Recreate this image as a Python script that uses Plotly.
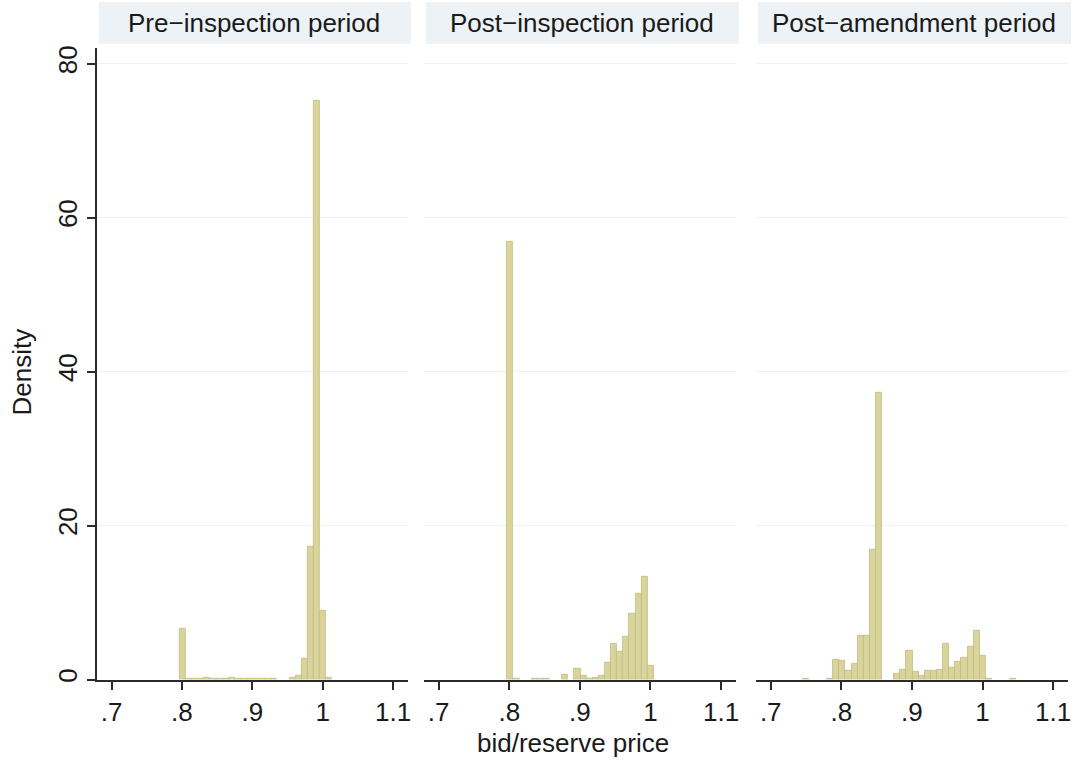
import numpy as np
import plotly.graph_objects as go

# Histogram bins shared by all three panels
BIN_START = 0.7018
BIN_WIDTH = 0.00865

panel_titles = ["Pre−inspection period", "Post−inspection period", "Post−amendment period"]
x_tick_vals = [0.7, 0.8, 0.9, 1.0, 1.1]
x_tick_text = [".7", ".8", ".9", "1", "1.1"]
y_tick_vals = [0, 20, 40, 60, 80]

# Density per bin, bin 0 starting at BIN_START
pre_inspection = [
    0, 0, 0, 0, 0, 0, 0, 0, 0, 0,
    0, 6.6, 0.15, 0.1, 0.15, 0.2, 0.15, 0.1, 0.15, 0.2,
    0.15, 0.1, 0.15, 0.1, 0.1, 0.1, 0.1, 0.0, 0.0, 0.3,
    0.5, 2.7, 17.3, 75.2, 9.0, 0.2, 0, 0, 0, 0,
]
post_inspection = [
    0, 0, 0, 0, 0, 0, 0, 0, 0, 0,
    0, 56.9, 0.15, 0, 0, 0.15, 0.15, 0.1, 0, 0,
    0.65, 0, 1.4, 0.5, 0.1, 0.2, 0.55, 2.2, 4.7, 3.6,
    5.6, 8.6, 11.2, 13.3, 1.8, 0, 0, 0, 0, 0,
]
post_amendment = [
    0, 0, 0, 0, 0, 0.1, 0, 0, 0, 0.15,
    2.6, 2.45, 1.2, 2.0, 5.7, 5.7, 16.9, 37.2, 0, 0,
    0.8, 1.3, 3.7, 1.05, 0.45, 1.1, 1.1, 1.3, 4.7, 1.5,
    2.3, 2.9, 4.3, 6.4, 3.1, 0.1, 0, 0, 0, 0.15,
]
panels = [pre_inspection, post_inspection, post_amendment]

W, H = 1080, 762
FONT = "Arial, Liberation Sans, sans-serif"
TEXT_SIZE = 26
BAR_FILL = "#d9d39c"
BAR_LINE = "#c3bc7e"
AXIS_COLOR = "#2b2b2b"
GRID_COLOR = "#eef2f4"
STRIP_COLOR = "#ecf2f5"

# Panel placement in pixels
panel_px = [(97, 409), (425, 738), (758, 1071)]
plot_top_px, plot_bottom_px = 46, 682
strip_bottom_px = 42

def px_x(p):
    return p / W

def px_y(p):
    return (H - p) / H

fig = go.Figure()

for i, heights in enumerate(panels):
    idx = "" if i == 0 else str(i + 1)
    heights = np.asarray(heights, dtype=float)
    centers = BIN_START + BIN_WIDTH * (np.arange(len(heights)) + 0.5)
    filled = heights > 0  # empty bins are not drawn
    fig.add_trace(go.Bar(
        x=centers[filled], y=heights[filled], width=BIN_WIDTH,
        marker=dict(color=BAR_FILL, line=dict(color=BAR_LINE, width=0.8)),
        xaxis="x" + idx, yaxis="y" + idx, showlegend=False,
        hoverinfo="x+y",
    ))

    x0, x1 = panel_px[i]
    fig.layout["xaxis" + idx] = dict(
        domain=[px_x(x0), px_x(x1)], range=[0.679, 1.121],
        anchor="y" + idx, tickvals=x_tick_vals, ticktext=x_tick_text,
        ticks="outside", ticklen=9, tickwidth=1.5, tickcolor=AXIS_COLOR,
        showline=True, linecolor=AXIS_COLOR, linewidth=1.5,
        showgrid=False, zeroline=False,
        tickfont=dict(family=FONT, size=TEXT_SIZE, color="#1a1a1a"),
    )
    fig.layout["yaxis" + idx] = dict(
        domain=[px_y(plot_bottom_px), px_y(plot_top_px)], range=[0, 82.06],
        anchor="x" + idx, tickvals=y_tick_vals,
        showgrid=True, gridcolor=GRID_COLOR, gridwidth=1, zeroline=False,
        showline=(i == 0), linecolor=AXIS_COLOR, linewidth=1.5,
        ticks="outside" if i == 0 else "", ticklen=8, tickwidth=1.5,
        tickcolor=AXIS_COLOR, showticklabels=(i == 0), tickangle=-90,
        tickfont=dict(family=FONT, size=TEXT_SIZE, color="#1a1a1a"),
    )

    # Title strip above each panel
    fig.add_shape(
        type="rect", xref="paper", yref="paper",
        x0=px_x(x0 + 2), x1=px_x(x1 + 3), y0=px_y(strip_bottom_px), y1=1,
        fillcolor=STRIP_COLOR, line=dict(width=0), layer="below",
    )
    fig.add_annotation(
        text=panel_titles[i], xref="paper", yref="paper",
        x=px_x((x0 + x1) / 2 + 2), y=px_y(21), showarrow=False,
        xanchor="center", yanchor="middle",
        font=dict(family=FONT, size=TEXT_SIZE, color="#1a1a1a"),
    )

fig.add_annotation(
    text="bid/reserve price", xref="paper", yref="paper",
    x=px_x(575), y=px_y(746), showarrow=False,
    xanchor="center", yanchor="middle",
    font=dict(family=FONT, size=TEXT_SIZE, color="#1a1a1a"),
)
fig.add_annotation(
    text="Density", xref="paper", yref="paper",
    x=px_x(22), y=px_y(372), showarrow=False, textangle=-90,
    xanchor="center", yanchor="middle",
    font=dict(family=FONT, size=TEXT_SIZE, color="#1a1a1a"),
)

fig.update_layout(
    width=W, height=H,
    margin=dict(l=0, r=0, t=0, b=0),
    paper_bgcolor="white", plot_bgcolor="white",
    bargap=0, barmode="overlay",
)

fig.write_html("out.html")
